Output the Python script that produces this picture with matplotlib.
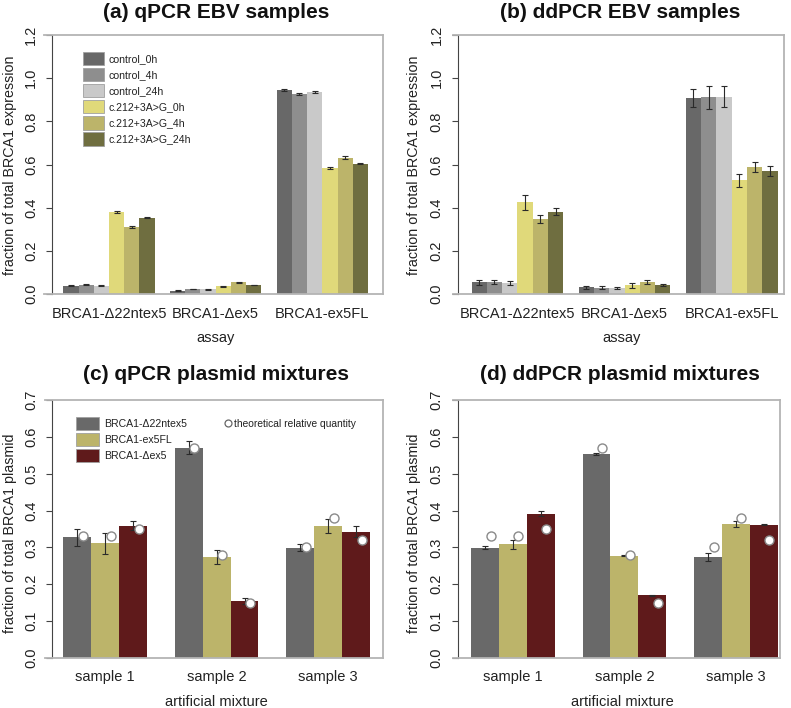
import matplotlib
matplotlib.use("Agg")
import matplotlib.pyplot as plt
from matplotlib.patches import Patch
from matplotlib.lines import Line2D

plt.rcParams['font.family'] = ['Liberation Sans', 'DejaVu Sans']

# ---------------- data ----------------
ebv_assays = ["BRCA1-Δ22ntex5", "BRCA1-Δex5", "BRCA1-ex5FL"]
ebv_conditions = ["control_0h", "control_4h", "control_24h",
                  "c.212+3A>G_0h", "c.212+3A>G_4h", "c.212+3A>G_24h"]
ebv_colors = ["#686868", "#8e8e8e", "#c9c9c9", "#e0d97a", "#bcb46a", "#6f6e40"]

# qPCR EBV (per assay, one value per condition)
qpcr_d22 = [0.038, 0.044, 0.038, 0.379, 0.309, 0.353]
qpcr_dex5 = [0.015, 0.023, 0.022, 0.036, 0.054, 0.042]
qpcr_fl = [0.944, 0.926, 0.936, 0.584, 0.632, 0.603]
qpcr_d22_err = [0.003, 0.003, 0.002, 0.006, 0.005, 0.002]
qpcr_dex5_err = [0.002, 0.002, 0.002, 0.003, 0.002, 0.002]
qpcr_fl_err = [0.004, 0.003, 0.004, 0.004, 0.006, 0.002]

# ddPCR EBV
ddpcr_d22 = [0.054, 0.056, 0.051, 0.425, 0.349, 0.381]
ddpcr_dex5 = [0.031, 0.029, 0.028, 0.040, 0.056, 0.041]
ddpcr_fl = [0.908, 0.911, 0.914, 0.527, 0.589, 0.570]
ddpcr_d22_err = [0.012, 0.008, 0.007, 0.034, 0.018, 0.016]
ddpcr_dex5_err = [0.008, 0.008, 0.004, 0.010, 0.008, 0.005]
ddpcr_fl_err = [0.042, 0.054, 0.048, 0.031, 0.024, 0.022]

# plasmid mixtures
mix_samples = ["sample 1", "sample 2", "sample 3"]
mix_assays = ["BRCA1-Δ22ntex5", "BRCA1-ex5FL", "BRCA1-Δex5"]
mix_colors = ["#696969", "#bcb46a", "#5f1a1b"]

qpcr_mix_d22 = [0.328, 0.571, 0.299]
qpcr_mix_fl = [0.311, 0.274, 0.358]
qpcr_mix_dex5 = [0.359, 0.155, 0.343]
qpcr_mix_d22_err = [0.023, 0.017, 0.010]
qpcr_mix_fl_err = [0.028, 0.020, 0.020]
qpcr_mix_dex5_err = [0.012, 0.008, 0.014]

ddpcr_mix_d22 = [0.299, 0.553, 0.275]
ddpcr_mix_fl = [0.309, 0.278, 0.364]
ddpcr_mix_dex5 = [0.392, 0.170, 0.362]
ddpcr_mix_d22_err = [0.004, 0.003, 0.011]
ddpcr_mix_fl_err = [0.012, 0.001, 0.009]
ddpcr_mix_dex5_err = [0.008, 0.002, 0.001]

theo_d22 = [0.33, 0.57, 0.30]
theo_fl = [0.33, 0.28, 0.38]
theo_dex5 = [0.35, 0.15, 0.32]

# ---------------- layout (pixels) ----------------
W, H = 791, 708
fig = plt.figure(figsize=(W / 100, H / 100), dpi=100)


def make_axes(left, right, top, bottom):
    return fig.add_axes([left / W, 1 - bottom / H, (right - left) / W, (bottom - top) / H])


def style_axes(ax, yaxis_px, left, right, ylim, yticks, first_px, last_px, nunits):
    u = (last_px - first_px) / nunits
    ax.set_xlim(-(first_px - left) / u, nunits + (right - last_px) / u)
    ax.set_ylim(*ylim)
    for s in ['top', 'right', 'bottom']:
        ax.spines[s].set_color('#b4b4b4')
        ax.spines[s].set_linewidth(1.3)
    ax.spines['left'].set_position(('axes', (yaxis_px - left) / (right - left)))
    ax.spines['left'].set_color('#444444')
    ax.spines['left'].set_linewidth(0.8)
    ax.spines['left'].set_bounds(ylim[0], ylim[1])
    ax.set_yticks(yticks)
    ax.set_yticklabels([f"{t:.1f}" for t in yticks], rotation=90, va='center',
                       fontsize=10.5, color='#222222')
    ax.tick_params(axis='y', length=4, width=0.8, color='#444444', pad=6)
    ax.tick_params(axis='x', length=0, pad=9, labelsize=10.5, labelcolor='#222222')


def grouped(ax, groups, colors, errs, nper):
    centers = []
    for g, (vals, ers) in enumerate(zip(groups, errs)):
        xs = [g * (nper + 1) + i for i in range(nper)]
        ax.bar(xs, vals, width=1.0, align='edge', color=colors, edgecolor='none', zorder=2)
        cx = [x + 0.5 for x in xs]
        ax.errorbar(cx, vals, yerr=ers, fmt='none', ecolor='#2a2a2a', elinewidth=0.8,
                    capsize=2.2, capthick=0.8, zorder=3)
        centers.append(cx)
    ticks = [g * (nper + 1) + nper / 2 for g in range(len(groups))]
    ax.set_xticks(ticks)
    return centers


def put_text(xpx, ypx, s, **kw):
    fig.text(xpx / W, 1 - ypx / H, s, ha='center', va='center', **kw)


# ---- (a) ----
axa = make_axes(44, 383, 35, 294)
grouped(axa, [qpcr_d22, qpcr_dex5, qpcr_fl], ebv_colors,
        [qpcr_d22_err, qpcr_dex5_err, qpcr_fl_err], 6)
style_axes(axa, 52, 44, 383, (0, 1.2), [0, 0.2, 0.4, 0.6, 0.8, 1.0, 1.2], 63.3, 368, 20)
axa.set_xticklabels(ebv_assays)

# ---- (b) ----
axb = make_axes(453, 784, 35, 294)
grouped(axb, [ddpcr_d22, ddpcr_dex5, ddpcr_fl], ebv_colors,
        [ddpcr_d22_err, ddpcr_dex5_err, ddpcr_fl_err], 6)
style_axes(axb, 457.5, 453, 784, (0, 1.2), [0, 0.2, 0.4, 0.6, 0.8, 1.0, 1.2], 471.5, 777.5, 20)
axb.set_xticklabels(ebv_assays)

# legend (a)
handles = [Patch(facecolor=c, edgecolor='#a0a0a0', linewidth=0.6) for c in ebv_colors]
leg = axa.legend(handles, ebv_conditions, loc='upper left', frameon=False, fontsize=7.6,
                 handlelength=2.0, handleheight=1.55, labelspacing=0.27, handletextpad=0.45,
                 borderaxespad=0, borderpad=0,
                 bbox_to_anchor=(83 / W, 1 - 52 / H), bbox_transform=fig.transFigure)
for t in leg.get_texts():
    t.set_color('#222222')

# ---- (c) ----
mix_groups_c = [list(v) for v in zip(qpcr_mix_d22, qpcr_mix_fl, qpcr_mix_dex5)]
mix_err_c = [list(v) for v in zip(qpcr_mix_d22_err, qpcr_mix_fl_err, qpcr_mix_dex5_err)]
theo_groups = [list(v) for v in zip(theo_d22, theo_fl, theo_dex5)]

axc = make_axes(45, 383, 400, 658)
cc = grouped(axc, mix_groups_c, mix_colors, mix_err_c, 3)
style_axes(axc, 52, 45, 383, (0, 0.7), [0, 0.1, 0.2, 0.3, 0.4, 0.5, 0.6, 0.7], 63.3, 370, 11)
axc.set_xticklabels(mix_samples)
for cx, tv in zip(cc, theo_groups):
    axc.plot([x + 0.2 for x in cx], tv, 'o', ms=6.5, mfc='white', mec='#8a8a8a', mew=1.0,
             zorder=4, linestyle='none')

handles_c = [Patch(facecolor=c, edgecolor='#a0a0a0', linewidth=0.6) for c in mix_colors]
legc = axc.legend(handles_c, mix_assays, loc='upper left', frameon=False, fontsize=7.6,
                  handlelength=2.2, handleheight=1.45, labelspacing=0.35, handletextpad=0.5,
                  borderaxespad=0, borderpad=0,
                  bbox_to_anchor=(76 / W, 1 - 417 / H), bbox_transform=fig.transFigure)
for t in legc.get_texts():
    t.set_color('#222222')
circ = Line2D([], [], marker='o', ms=5, mfc='white', mec='#666666', mew=0.9, linestyle='none')
legc2 = axc.legend([circ], ["theoretical relative quantity"], loc='upper left', frameon=False,
                   fontsize=7.4, handlelength=0.6, handletextpad=0.3, borderaxespad=0, borderpad=0,
                   bbox_to_anchor=(225 / W, 1 - 419 / H), bbox_transform=fig.transFigure)
axc.add_artist(legc)
for t in legc2.get_texts():
    t.set_color('#222222')

# ---- (d) ----
mix_groups_d = [list(v) for v in zip(ddpcr_mix_d22, ddpcr_mix_fl, ddpcr_mix_dex5)]
mix_err_d = [list(v) for v in zip(ddpcr_mix_d22_err, ddpcr_mix_fl_err, ddpcr_mix_dex5_err)]
axd = make_axes(453, 779.5, 400, 658)
cd = grouped(axd, mix_groups_d, mix_colors, mix_err_d, 3)
style_axes(axd, 457.5, 453, 779.5, (0, 0.7), [0, 0.1, 0.2, 0.3, 0.4, 0.5, 0.6, 0.7], 471, 777.7, 11)
axd.set_xticklabels(mix_samples)
for cx, tv in zip(cd, theo_groups):
    axd.plot([x + 0.2 for x in cx], tv, 'o', ms=6.5, mfc='white', mec='#8a8a8a', mew=1.0,
             zorder=4, linestyle='none')

# ---- titles & axis labels ----
tkw = dict(fontsize=15, fontweight='bold', color='#111111')
put_text(216, 13, "(a) qPCR EBV samples", **tkw)
put_text(620, 13, "(b) ddPCR EBV samples", **tkw)
put_text(216, 374, "(c) qPCR plasmid mixtures", **tkw)
put_text(620, 374, "(d) ddPCR plasmid mixtures", **tkw)

lkw = dict(fontsize=10.3, color='#222222')
put_text(10, 165, "fraction of total BRCA1 expression", rotation=90, **lkw)
put_text(414, 165, "fraction of total BRCA1 expression", rotation=90, **lkw)
put_text(10, 533, "fraction of total BRCA1 plasmid", rotation=90, **lkw)
put_text(414, 533, "fraction of total BRCA1 plasmid", rotation=90, **lkw)
put_text(216, 338, "assay", fontsize=10.5, color='#222222')
put_text(622, 338, "assay", fontsize=10.5, color='#222222')
put_text(216, 702, "artificial mixture", fontsize=10.5, color='#222222')
put_text(622, 702, "artificial mixture", fontsize=10.5, color='#222222')

fig.savefig("out.png", dpi=100)
